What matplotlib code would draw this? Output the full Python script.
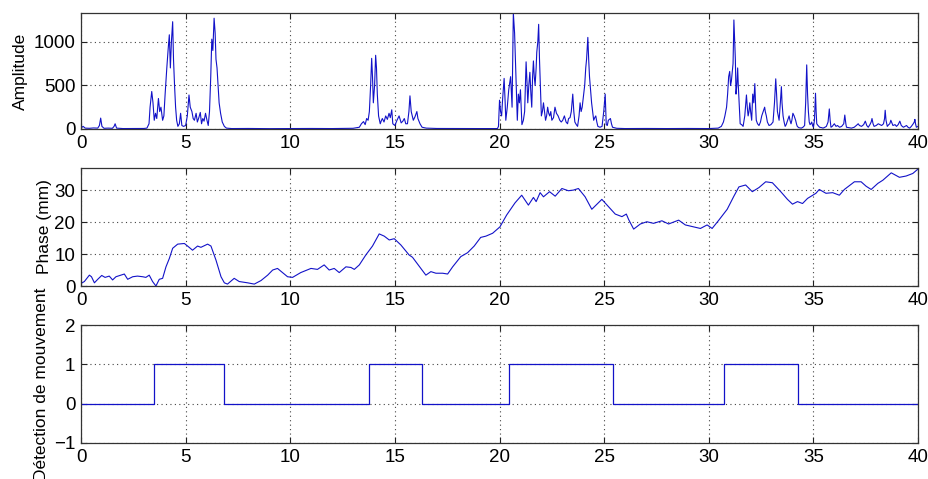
import matplotlib
matplotlib.use("Agg")
import matplotlib.pyplot as plt

plt.rcParams['font.family'] = ['Liberation Sans', 'DejaVu Sans']

# ── Data ─────────────────────────────────────────────────────────────────────
amp_t = [
    0.0, 0.05, 0.1, 0.2, 0.4, 0.6, 0.8, 0.88, 0.94, 1.0, 1.1, 1.3, 1.5, 1.58, 1.63, 1.7,
    2.0, 2.5, 3.0, 3.15, 3.25, 3.3, 3.38, 3.44, 3.5, 3.56, 3.62, 3.7, 3.76, 3.82, 3.9,
    3.96, 4.02, 4.1, 4.16, 4.22, 4.27, 4.32, 4.38, 4.42, 4.47, 4.52, 4.57, 4.63, 4.7,
    4.76, 4.82, 4.9, 5.0, 5.08, 5.16, 5.22, 5.3, 5.36, 5.42, 5.5, 5.56, 5.63, 5.7, 5.76,
    5.82, 5.88, 5.95, 6.02, 6.08, 6.14, 6.2, 6.25, 6.3, 6.36, 6.41, 6.45, 6.5, 6.55,
    6.6, 6.67, 6.75, 6.85, 6.95, 7.2, 8.0, 9.0, 10.0, 11.0, 12.0, 13.0, 13.3, 13.4,
    13.5, 13.58, 13.65, 13.72, 13.78, 13.84, 13.89, 13.93, 13.97, 14.03, 14.08, 14.12,
    14.16, 14.22, 14.3, 14.36, 14.4, 14.48, 14.56, 14.64, 14.72, 14.78, 14.85, 14.9,
    15.0, 15.1, 15.2, 15.3, 15.38, 15.45, 15.52, 15.6, 15.67, 15.72, 15.78, 15.88,
    15.96, 16.05, 16.1, 16.2, 16.3, 16.5, 17.0, 18.0, 19.0, 19.9, 19.95, 20.0, 20.05,
    20.1, 20.15, 20.22, 20.27, 20.3, 20.37, 20.44, 20.53, 20.6, 20.66, 20.72, 20.76,
    20.8, 20.85, 20.9, 20.95, 21.0, 21.07, 21.14, 21.2, 21.27, 21.32, 21.35, 21.4,
    21.45, 21.5, 21.54, 21.58, 21.62, 21.66, 21.7, 21.75, 21.78, 21.83, 21.87, 21.91,
    21.95, 22.0, 22.05, 22.1, 22.15, 22.2, 22.25, 22.3, 22.35, 22.4, 22.45, 22.5,
    22.58, 22.65, 22.72, 22.8, 22.88, 22.95, 23.02, 23.1, 23.18, 23.25, 23.3, 23.37,
    23.43, 23.5, 23.55, 23.6, 23.67, 23.73, 23.8, 23.85, 23.9, 23.95, 24.0, 24.07,
    24.12, 24.16, 24.22, 24.26, 24.3, 24.35, 24.4, 24.45, 24.5, 24.55, 24.6, 24.65,
    24.7, 24.8, 24.9, 24.98, 25.05, 25.1, 25.15, 25.2, 25.3, 25.35, 25.4, 25.6, 26.0,
    27.0, 28.0, 29.0, 30.0, 30.45, 30.6, 30.7, 30.77, 30.85, 30.9, 30.95, 31.0, 31.04,
    31.08, 31.12, 31.16, 31.2, 31.24, 31.27, 31.3, 31.34, 31.38, 31.41, 31.44, 31.5,
    31.57, 31.64, 31.72, 31.8, 31.84, 31.88, 31.92, 31.96, 32.0, 32.05, 32.1, 32.15,
    32.2, 32.24, 32.27, 32.33, 32.4, 32.47, 32.53, 32.6, 32.67, 32.7, 32.75, 32.8,
    32.88, 32.97, 33.07, 33.14, 33.2, 33.24, 33.28, 33.32, 33.36, 33.42, 33.47, 33.5,
    33.55, 33.6, 33.65, 33.7, 33.74, 33.8, 33.84, 33.88, 33.93, 33.97, 34.02, 34.08,
    34.15, 34.2, 34.23, 34.3, 34.42, 34.5, 34.58, 34.63, 34.68, 34.72, 34.76, 34.8,
    34.84, 34.88, 34.92, 34.96, 35.0, 35.05, 35.1, 35.13, 35.16, 35.22, 35.3, 35.4,
    35.46, 35.55, 35.62, 35.7, 35.76, 35.8, 35.84, 35.9, 36.0, 36.08, 36.15, 36.25,
    36.35, 36.45, 36.5, 36.55, 36.58, 36.7, 36.82, 36.95, 37.05, 37.14, 37.2, 37.3,
    37.4, 37.48, 37.55, 37.62, 37.7, 37.76, 37.8, 37.85, 37.9, 38.0, 38.1, 38.18,
    38.26, 38.35, 38.4, 38.43, 38.47, 38.53, 38.6, 38.65, 38.7, 38.75, 38.8, 38.9,
    38.97, 39.05, 39.13, 39.2, 39.3, 39.38, 39.45, 39.52, 39.6, 39.68, 39.77, 39.82,
    39.85, 39.88, 39.92, 40.0,
]
amp_val = [
    40, 20, 30, 10, 8, 12, 10, 40, 125, 30, 8, 10, 8, 30, 60, 10,
    5, 5, 6, 10, 60, 250, 430, 300, 100, 180, 120, 350, 200, 250, 100,
    150, 400, 700, 900, 1080, 700, 1000, 1230, 800, 500, 250, 100, 30, 60,
    180, 40, 30, 40, 150, 390, 250, 200, 120, 100, 180, 80, 130, 190, 60,
    120, 90, 180, 100, 40, 200, 600, 1030, 900, 1270, 1100, 800, 700, 500,
    300, 180, 80, 30, 10, 5, 6, 4, 5, 6, 5, 8, 20, 60,
    85, 50, 120, 100, 200, 500, 810, 600, 300, 500, 845, 700,
    400, 150, 60, 100, 120, 80, 150, 110, 180, 130, 220, 60,
    40, 100, 150, 70, 90, 120, 60, 60, 200, 380, 200, 100,
    140, 200, 120, 60, 20, 10, 6, 5, 5, 5, 30, 330, 200,
    150, 350, 580, 300, 100, 250, 450, 600, 250, 1330, 1100, 800,
    500, 100, 400, 300, 450, 50, 100, 200, 770, 500, 300, 500,
    650, 400, 250, 600, 780, 600, 500, 700, 880, 1000, 1200, 800,
    500, 150, 200, 300, 200, 100, 150, 250, 180, 150, 200, 100,
    130, 250, 180, 150, 100, 80, 100, 150, 80, 60, 120, 130,
    200, 400, 200, 80, 50, 30, 150, 300, 200, 250, 350, 500,
    700, 800, 1050, 800, 600, 450, 300, 200, 100, 130, 150, 80,
    30, 20, 30, 200, 400, 50, 40, 100, 120, 60, 20, 8, 5,
    6, 5, 6, 5, 10, 30, 80, 150, 250, 400, 600, 660, 500,
    550, 650, 750, 1250, 1000, 800, 400, 500, 700, 500, 350, 60,
    50, 30, 150, 390, 250, 150, 200, 300, 200, 100, 400, 300,
    520, 250, 100, 60, 40, 80, 150, 200, 250, 200, 150, 80,
    40, 50, 80, 300, 575, 400, 200, 150, 100, 300, 485, 300,
    150, 80, 30, 50, 80, 120, 150, 100, 60, 100, 180, 150,
    100, 50, 30, 15, 10, 20, 40, 300, 735, 400, 200, 80,
    50, 60, 80, 40, 20, 100, 410, 200, 60, 40, 20, 15,
    10, 20, 30, 80, 230, 100, 20, 30, 60, 30, 40, 20,
    30, 60, 160, 60, 20, 15, 10, 20, 40, 60, 40, 30,
    50, 90, 40, 20, 50, 80, 120, 60, 30, 40, 60, 50,
    40, 60, 120, 215, 100, 30, 50, 60, 100, 70, 40, 50,
    30, 50, 90, 40, 20, 30, 40, 20, 10, 30, 60, 80,
    110, 60, 20, 30,
]

phase_t = [
    0.0, 0.16, 0.4, 0.5, 0.64, 0.8, 0.99, 1.15, 1.35, 1.51, 1.67, 1.91, 2.07, 2.23,
    2.47, 2.7, 2.95, 3.1, 3.26, 3.42, 3.58, 3.74, 3.9, 4.06, 4.22, 4.38, 4.62, 4.94,
    5.13, 5.33, 5.57, 5.73, 6.05, 6.21, 6.45, 6.69, 6.85, 7.0, 7.32, 7.56, 7.96, 8.28,
    8.6, 8.92, 9.16, 9.39, 9.63, 9.87, 10.11, 10.5, 10.99, 11.3, 11.62, 11.86, 12.1,
    12.34, 12.66, 12.9, 13.06, 13.3, 13.61, 13.93, 14.25, 14.49, 14.73, 14.97, 15.29,
    15.68, 15.84, 16.08, 16.48, 16.72, 16.96, 17.28, 17.52, 17.76, 18.15, 18.47,
    18.79, 19.1, 19.35, 19.67, 20.02, 20.34, 20.74, 21.06, 21.38, 21.62, 21.75,
    21.94, 22.1, 22.39, 22.66, 22.98, 23.29, 23.53, 23.77, 24.09, 24.41, 24.89,
    25.21, 25.53, 25.85, 26.06, 26.17, 26.41, 26.73, 27.04, 27.36, 27.76, 28.08,
    28.56, 28.88, 29.28, 29.6, 29.92, 30.16, 30.48, 30.88, 31.2, 31.44, 31.76, 32.08,
    32.4, 32.72, 33.04, 33.44, 33.76, 34.0, 34.24, 34.48, 34.72, 35.12, 35.28, 35.6,
    35.92, 36.24, 36.48, 36.96, 37.28, 37.52, 37.76, 38.08, 38.32, 38.72, 39.11,
    39.43, 39.75, 40.0,
]
phase_mm = [
    0.8, 1.4, 3.4, 2.9, 1.0, 2.1, 3.3, 2.7, 3.1, 1.9, 2.9, 3.4, 3.75, 2.1,
    2.9, 3.1, 2.9, 2.7, 3.4, 1.4, 0.0, 2.1, 2.4, 6.0, 8.6, 11.8, 13.1, 13.3,
    12.3, 11.2, 12.5, 12.1, 13.1, 12.5, 8.1, 2.9, 1.0, 0.6, 2.4, 1.4, 1.0, 0.6,
    1.7, 3.4, 5.0, 5.5, 4.2, 2.9, 2.7, 4.2, 5.5, 5.2, 6.6, 5.0, 5.5,
    4.2, 6.0, 5.8, 5.2, 6.6, 9.7, 12.5, 16.3, 15.6, 14.4, 14.8, 12.8,
    9.7, 9.0, 6.9, 3.4, 4.5, 4.0, 4.0, 3.75, 6.0, 9.2, 10.4,
    12.5, 15.2, 15.6, 16.5, 18.5, 22.2, 26.0, 28.4, 25.3, 27.7, 26.4,
    29.2, 27.9, 29.5, 28.1, 30.5, 29.8, 30.0, 30.5, 27.9, 24.0, 27.1,
    24.8, 22.5, 21.7, 22.5, 20.8, 17.8, 19.4, 20.1, 19.6, 20.4, 19.4,
    20.6, 19.1, 18.5, 18.0, 19.1, 18.0, 20.6, 24.0, 28.1, 31.0, 31.6, 29.5,
    30.8, 32.6, 32.3, 29.5, 27.1, 25.6, 26.4, 25.8, 27.4, 29.0, 30.2, 29.0,
    29.2, 28.4, 30.2, 32.6, 32.6, 31.2, 30.2, 32.1, 33.1, 35.4, 34.0,
    34.4, 35.2, 36.6,
]

det_edges = [0, 3.49, 6.83, 13.76, 16.3, 20.47, 25.4, 30.74, 34.28, 40]
det_state = [0, 1, 0, 1, 0, 1, 0, 1, 0]

X_TICKS = [0, 5, 10, 15, 20, 25, 30, 35, 40]
LINE = '#1212c8'


def style(ax, yticks):
    ax.set_xlim(0, 40)
    ax.set_xticks(X_TICKS)
    ax.set_yticks(yticks)
    ax.grid(True, linestyle=(0, (1, 3)), color='#444444', linewidth=0.8)
    ax.tick_params(direction='in', length=4, top=True, right=True,
                   labelsize=13.5, pad=4, colors='#222222', labelcolor='black')
    for s in ax.spines.values():
        s.set_color('#333333')
        s.set_linewidth(0.9)


fig = plt.figure(figsize=(9.29, 4.79), dpi=100)
ax1 = fig.add_axes([0.0872, 0.7307, 0.901, 0.2422])
ax2 = fig.add_axes([0.0872, 0.4029, 0.901, 0.2463])
ax3 = fig.add_axes([0.0872, 0.0752, 0.901, 0.2463])

ax1.plot(amp_t, amp_val, color=LINE, linewidth=0.8)
style(ax1, [0, 500, 1000])
ax1.set_ylim(0, 1330)
ax1.set_ylabel("Amplitude", fontsize=12.5)

ax2.plot(phase_t, phase_mm, color=LINE, linewidth=0.8)
style(ax2, [0, 10, 20, 30])
ax2.set_ylim(0, 36.9)
ax2.set_ylabel("Phase (mm)", fontsize=12.5, labelpad=2)

ax3.step(det_edges, det_state + [det_state[-1]], where='post', color=LINE, linewidth=0.9)
style(ax3, [-1, 0, 1, 2])
ax3.set_ylim(-1, 2)
ax3.set_ylabel("Détection de mouvement", fontsize=12.5, labelpad=4)

fig.savefig("out.png", dpi=100)
